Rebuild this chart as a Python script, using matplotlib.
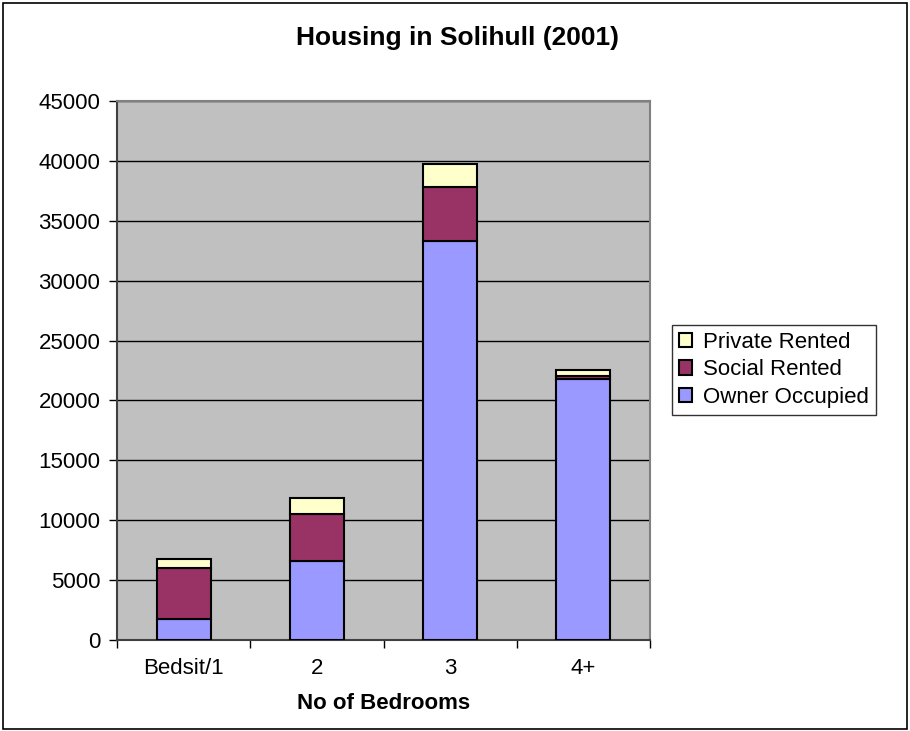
import matplotlib
matplotlib.use("Agg")
import matplotlib.pyplot as plt
from matplotlib.patches import Rectangle
import numpy as np

# Households by number of bedrooms and tenure
bedrooms = ['Bedsit/1', '2', '3', '4+']
owner_occupied = [1780, 6600, 33350, 21750]
social_rented = [4220, 3900, 4480, 330]
private_rented = [750, 1330, 1890, 480]

plt.rcParams['font.family'] = ['Liberation Sans', 'DejaVu Sans']

fig = plt.figure(figsize=(9.10, 7.31), dpi=100)
ax = fig.add_axes([117 / 910, 91 / 731, 533 / 910, 539 / 731])
ax.set_facecolor('#C0C0C0')

x = np.arange(len(bedrooms))
w = 0.405
owner = np.array(owner_occupied)
social = np.array(social_rented)
private = np.array(private_rented)

b1 = ax.bar(x, owner, w, color='#9999FF', edgecolor='black', linewidth=1.5,
            label='Owner Occupied', zorder=3)
b2 = ax.bar(x, social, w, bottom=owner, color='#993366', edgecolor='black',
            linewidth=1.5, label='Social Rented', zorder=3)
b3 = ax.bar(x, private, w, bottom=owner + social, color='#FFFFCC',
            edgecolor='black', linewidth=1.5, label='Private Rented', zorder=3)

ax.set_xlim(-0.5, len(bedrooms) - 0.5)
ax.set_ylim(0, 45000)
ax.set_yticks(np.arange(0, 45001, 5000))
ax.yaxis.grid(True, color='black', linewidth=1.0, zorder=1)
ax.set_axisbelow(True)

ax.set_xticks(x)
ax.set_xticklabels(bedrooms, fontsize=16)
ax.set_xticks(np.arange(-0.5, len(bedrooms), 1.0), minor=True)
ax.tick_params(axis='x', which='major', length=0, pad=13)
ax.tick_params(axis='x', which='minor', length=6, width=1, direction='out')
ax.tick_params(axis='y', length=6, width=1, direction='out', labelsize=16, pad=6)

for side in ['top', 'right']:
    ax.spines[side].set_color('#808080')
    ax.spines[side].set_linewidth(1.5)
for side in ['left', 'bottom']:
    ax.spines[side].set_color('#404040')
    ax.spines[side].set_linewidth(1.5)

ax.set_xlabel('No of Bedrooms', fontsize=16, fontweight='bold', labelpad=10)
fig.text(458 / 910, 1 - 38 / 731, 'Housing in Solihull (2001)', fontsize=19,
         fontweight='bold', ha='center', va='center')

leg = fig.legend(handles=[b3, b2, b1], loc='upper left',
                 bbox_to_anchor=(672 / 910, 1 - 325 / 731), fontsize=16,
                 frameon=True, fancybox=False, edgecolor='black',
                 handlelength=0.6, handleheight=0.6, handletextpad=0.5,
                 borderpad=0.3, labelspacing=0.3, borderaxespad=0)
leg.get_frame().set_linewidth(1.0)

# outer frame around the whole chart
fig.patches.append(Rectangle((3 / 910, 2 / 731), 904 / 910, 726 / 731,
                             transform=fig.transFigure, fill=False,
                             edgecolor='black', linewidth=1.2))

fig.savefig('out.png', dpi=100)
